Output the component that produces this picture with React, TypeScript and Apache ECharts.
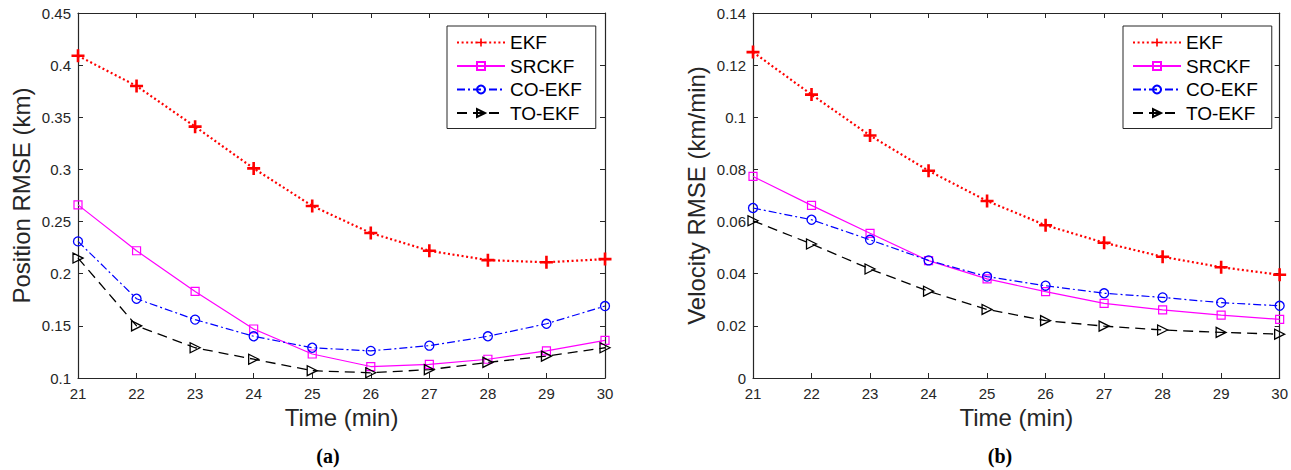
import React, { useEffect, useRef } from "react";
import * as echarts from "echarts";

// Time axis (minutes)
const minutes = [21, 22, 23, 24, 25, 26, 27, 28, 29, 30];

// Position RMSE (km)
const posEKF = [0.409, 0.380, 0.341, 0.301, 0.265, 0.239, 0.222, 0.213, 0.211, 0.214];
const posSRCKF = [0.266, 0.222, 0.183, 0.147, 0.123, 0.111, 0.113, 0.118, 0.126, 0.136];
const posCOEKF = [0.231, 0.176, 0.156, 0.140, 0.129, 0.126, 0.131, 0.140, 0.152, 0.169];
const posTOEKF = [0.215, 0.150, 0.129, 0.118, 0.107, 0.105, 0.108, 0.115, 0.121, 0.129];

// Velocity RMSE (km/min)
const velEKF = [0.125, 0.1087, 0.093, 0.0795, 0.0679, 0.0586, 0.0519, 0.0465, 0.0425, 0.0396];
const velSRCKF = [0.0773, 0.0662, 0.0555, 0.0450, 0.0380, 0.0331, 0.0286, 0.0261, 0.0241, 0.0225];
const velCOEKF = [0.0652, 0.0607, 0.0530, 0.0451, 0.0389, 0.0354, 0.0325, 0.0309, 0.0289, 0.0277];
const velTOEKF = [0.0603, 0.0514, 0.0418, 0.0333, 0.0263, 0.0220, 0.0199, 0.0184, 0.0175, 0.0168];

const seriesNames = ["EKF", "SRCKF", "CO-EKF", "TO-EKF"];

const FONT = '"Liberation Sans", Arial, Helvetica, sans-serif';
const SERIF_BOLD = 'bold 20px "Liberation Serif", "Times New Roman", serif';
const AXIS_COLOR = "#262626";
const PLUS = "path://M4,0H6V4H10V6H6V10H4V6H0V4H4Z";

const pairs = (ys: number[]) => minutes.map((m, i) => [m, ys[i]]);

function makeSeries(grid: number, data: number[][][]) {
  const styles = [
    {
      symbol: PLUS,
      symbolSize: 13,
      symbolRotate: 0,
      itemStyle: { color: "#ff0000", borderWidth: 0 },
      lineStyle: { color: "#ff0000", width: 2.2, type: [2, 2.6] },
    },
    {
      symbol: "rect",
      symbolSize: 8,
      symbolRotate: 0,
      itemStyle: { color: "rgba(255,255,255,0)", borderColor: "#ff00ff", borderWidth: 1.2 },
      lineStyle: { color: "#ff00ff", width: 1.2, type: "solid" },
    },
    {
      symbol: "circle",
      symbolSize: 9,
      symbolRotate: 0,
      itemStyle: { color: "rgba(255,255,255,0)", borderColor: "#0000ff", borderWidth: 1.3 },
      lineStyle: { color: "#0000ff", width: 1.2, type: [8, 3, 2, 3] },
    },
    {
      symbol: "triangle",
      symbolSize: 10,
      symbolRotate: -90,
      itemStyle: { color: "rgba(255,255,255,0)", borderColor: "#000000", borderWidth: 1.3 },
      lineStyle: { color: "#000000", width: 1.3, type: [10, 6] },
    },
  ];
  return data.map((d, i) => ({
    name: seriesNames[i],
    type: "line",
    xAxisIndex: grid * 2,
    yAxisIndex: grid * 2,
    data: d,
    showAllSymbol: true,
    ...styles[i],
  }));
}

function xAxes(grid: number) {
  const base = {
    type: "value",
    gridIndex: grid,
    min: 21,
    max: 30,
    interval: 1,
    splitLine: { show: false },
    axisLine: { show: true, onZero: false, lineStyle: { color: AXIS_COLOR, width: 1.2 } },
    axisTick: { show: true, inside: true, length: 5, lineStyle: { color: AXIS_COLOR } },
  };
  return [
    {
      ...base,
      position: "bottom",
      name: "Time (min)",
      nameLocation: "middle",
      nameGap: 27,
      nameTextStyle: { fontFamily: FONT, fontSize: 24, color: AXIS_COLOR },
      axisLabel: { show: true, margin: 8, fontFamily: FONT, fontSize: 15, color: AXIS_COLOR },
    },
    { ...base, position: "top", axisLabel: { show: false } },
  ];
}

function yAxes(grid: number, min: number, max: number, step: number, title: string) {
  const base = {
    type: "value",
    gridIndex: grid,
    min,
    max,
    interval: step,
    splitLine: { show: false },
    axisLine: { show: true, onZero: false, lineStyle: { color: AXIS_COLOR, width: 1.2 } },
    axisTick: { show: true, inside: true, length: 5, lineStyle: { color: AXIS_COLOR } },
  };
  return [
    {
      ...base,
      position: "left",
      name: title,
      nameLocation: "middle",
      nameGap: 45,
      nameTextStyle: { fontFamily: FONT, fontSize: 24, color: AXIS_COLOR },
      axisLabel: {
        show: true,
        margin: 7,
        fontFamily: FONT,
        fontSize: 15,
        color: AXIS_COLOR,
        formatter: (v: number) => String(Number(v.toFixed(3))),
      },
    },
    { ...base, position: "right", axisLabel: { show: false } },
  ];
}

function legend(left: number) {
  return {
    left,
    top: 26,
    orient: "vertical",
    data: seriesNames,
    backgroundColor: "#ffffff",
    borderColor: AXIS_COLOR,
    borderWidth: 1,
    padding: [7, 14, 6, 9],
    itemWidth: 48,
    itemHeight: 10,
    itemGap: 4.5,
    selectedMode: false,
    textStyle: { fontFamily: FONT, fontSize: 19, color: "#000", lineHeight: 19 },
  };
}

export default function App() {
  const ref = useRef<HTMLDivElement>(null);

  useEffect(() => {
    if (!ref.current) return;
    const chart = echarts.init(ref.current, null, { renderer: "svg" });
    chart.setOption({
      animation: false,
      backgroundColor: "#ffffff",
      grid: [
        { left: 78, top: 13, width: 527, height: 365, containLabel: false },
        { left: 753, top: 13, width: 528, height: 365, containLabel: false },
      ],
      xAxis: [...xAxes(0), ...xAxes(1)],
      yAxis: [
        ...yAxes(0, 0.1, 0.45, 0.05, "Position RMSE (km)"),
        ...yAxes(1, 0, 0.14, 0.02, "Velocity RMSE (km/min)"),
      ],
      legend: [legend(447), legend(1123)],
      series: [
        ...makeSeries(0, [pairs(posEKF), pairs(posSRCKF), pairs(posCOEKF), pairs(posTOEKF)]),
        ...makeSeries(1, [pairs(velEKF), pairs(velSRCKF), pairs(velCOEKF), pairs(velTOEKF)]),
      ],
      graphic: [
        {
          type: "text",
          x: 328,
          y: 456,
          style: { text: "(a)", font: SERIF_BOLD, fill: "#000", align: "center", verticalAlign: "middle" },
        },
        {
          type: "text",
          x: 1000,
          y: 456,
          style: { text: "(b)", font: SERIF_BOLD, fill: "#000", align: "center", verticalAlign: "middle" },
        },
      ],
    });
    return () => chart.dispose();
  }, []);

  return (
    <div
      ref={ref}
      style={{ position: "fixed", left: 0, top: 0, width: 1291, height: 470, background: "#fff" }}
    />
  );
}
